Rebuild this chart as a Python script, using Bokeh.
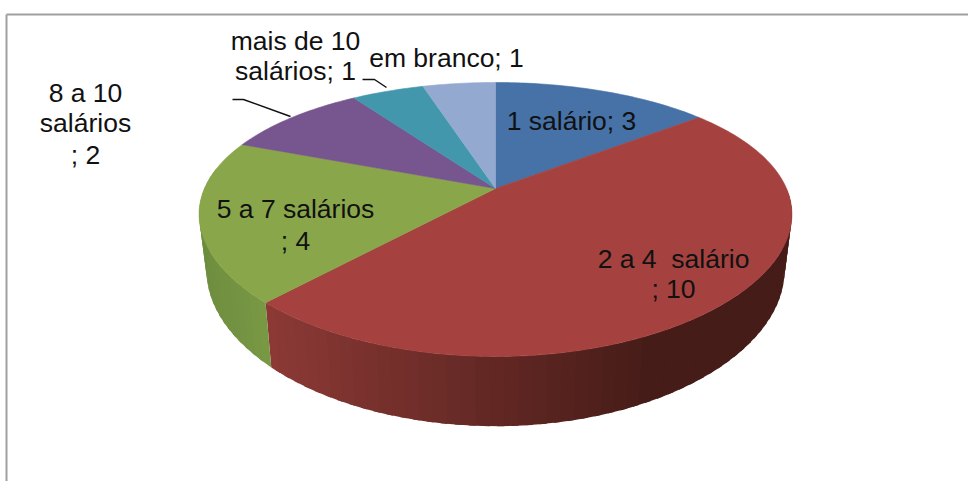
import math
from bokeh.plotting import figure
from bokeh.embed import file_html
from bokeh.resources import INLINE
from bokeh.core.properties import value
from bokeh.models import Range1d

categories = ["1 salário", "2 a 4  salário", "5 a 7 salários", "8 a 10 salários", "mais de 10 salários", "em branco"]
values = [3, 10, 4, 2, 1, 1]
top_colors = ["#4672a8", "#a5423f", "#8aa64b", "#77558f", "#4297ac", "#94a9d0"]
# side colour at the far left and far right of the pie
side_left = {1: (146, 60, 56), 2: (108, 140, 62)}
side_right = {1: (70, 28, 24), 2: (122, 154, 70)}

label_lines = [
    ["1 salário; 3"],
    ["2 a 4\u00a0 salário", "; 10"],
    ["5 a 7 salários", "; 4"],
    ["8 a 10", "salários", "; 2"],
    ["mais de 10", "salários; 1"],
    ["em branco; 1"],
]
label_x = [571, 673, 295, 85, 295, 446]
label_y = [[120], [258, 288], [208, 240], [92, 122, 154], [40, 70], [57]]
leaders = [([232, 243, 290], [99, 99, 116]), ([362, 374, 386], [79, 79, 87])]

CX, CY = 495, 188
A, B, K, KX, DEPTH, SHRINK = 130, 291, 0.226, 0.19, 54, 0.975


def top(t):
    X, Y = math.sin(t), math.cos(t)
    return CX + B * X / (1 + KX * Y), CY - A * Y / (1 + K * Y)


def bottom(t):
    X, Y = math.sin(t), math.cos(t)
    d = 1 + K * Y
    return CX + SHRINK * B * X / (1 + KX * Y), CY - A * Y / d + DEPTH / d


p = figure(width=968, height=481, output_backend="svg", toolbar_location=None,
           x_range=Range1d(0, 968), y_range=Range1d(481, 0), min_border=0, margin=0)
p.axis.visible = False
p.grid.visible = False
p.outline_line_color = None
p.background_fill_color = "white"

p.line([6, 6], [481, 14], line_color="#a0a0a0", line_width=2)
p.line([6, 968], [14, 14], line_color="#a0a0a0", line_width=2)

total = sum(values)
edges = [0.0]
for v in values:
    edges.append(edges[-1] + v / total * 2 * math.pi)

# side walls, one strip after another for the shading
for i in (1, 2):
    a0, a1 = edges[i], edges[i + 1]
    lo, hi = max(a0, math.pi / 2), min(a1, 1.55 * math.pi)
    n = max(2, int((hi - lo) / 0.04))
    for j in range(n):
        t0 = lo + (hi - lo) * j / n
        t1 = lo + (hi - lo) * (j + 1) / n
        tm = (t0 + t1) / 2
        if i == 1:
            g = max(0, min(1, (math.sin(tm) + 0.75) / 1.2))
        else:
            g = max(0, min(1, (math.sin(tm) + 1) / 0.35))
        rgb = [int(side_left[i][c] + (side_right[i][c] - side_left[i][c]) * g) for c in range(3)]
        col = "#%02x%02x%02x" % tuple(rgb)
        t2 = min(hi, t1 + 0.02)
        xa, ya = top(t0)
        xb, yb = top(t2)
        xc, yc = bottom(t2)
        xd, yd = bottom(t0)
        p.patch([xa, xb, xc, xd], [ya, yb, yc, yd], fill_color=col, line_color=None)

# top face
for i, c in enumerate(top_colors):
    a0, a1 = edges[i], edges[i + 1]
    n = max(4, int((a1 - a0) / 0.02))
    pts = [top(a0 + (a1 - a0) * j / n) for j in range(n + 1)]
    xs = [CX] + [q[0] for q in pts]
    ys = [CY] + [q[1] for q in pts]
    p.patch(xs, ys, fill_color=c, line_color=c, line_width=0.6)

for xs, ys in leaders:
    p.line(xs, ys, line_color="#111111", line_width=1.5)

for lines, x, ys in zip(label_lines, label_x, label_y):
    for s, y in zip(lines, ys):
        p.text([x], [y], text=[s], text_font=value("Liberation Sans"), text_font_size="26.5px",
               text_color="#111111", text_align="center", text_baseline="middle")

open("out.html", "w").write(file_html(p, INLINE))
